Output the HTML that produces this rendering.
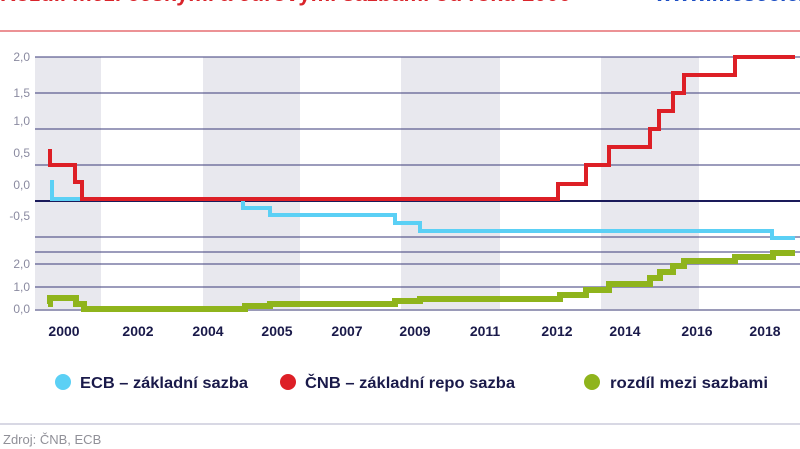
<!DOCTYPE html>
<html><head><meta charset="utf-8"><style>
html,body{margin:0;padding:0;background:#fff;}
svg{display:block;font-family:"Liberation Sans",sans-serif;}
</style></head><body>
<svg width="800" height="449" viewBox="0 0 800 449" xmlns="http://www.w3.org/2000/svg">
<text x="0" y="1" font-size="22" font-weight="bold" fill="#d9242b">Rozdíl mezi českými a eurovými sazbami od roku 2000</text>
<text x="655" y="1" font-size="22" font-weight="bold" fill="#1d4fc4">www.mesec.cz</text>
<line x1="0" y1="31" x2="800" y2="31" stroke="#d9242b" stroke-width="1"/>
<g fill="#e8e8ee">
<rect x="35" y="57" width="66" height="254"/>
<rect x="203" y="57" width="97" height="254"/>
<rect x="401" y="57" width="99" height="254"/>
<rect x="601" y="57" width="98" height="254"/>
</g>
<g stroke="#3a3a78" stroke-width="1">
<line x1="35" y1="57" x2="800" y2="57"/><line x1="35" y1="93" x2="800" y2="93"/>
<line x1="35" y1="129" x2="800" y2="129"/><line x1="35" y1="165" x2="800" y2="165"/>
<line x1="35" y1="237" x2="800" y2="237"/><line x1="35" y1="252" x2="800" y2="252"/>
<line x1="35" y1="264" x2="800" y2="264"/><line x1="35" y1="287" x2="800" y2="287"/>
<line x1="35" y1="310" x2="800" y2="310" stroke="#9a9ab8" stroke-width="2"/>
</g>
<line x1="35" y1="201" x2="800" y2="201" stroke="#1a1a5a" stroke-width="2"/>
<g font-size="12" fill="#8a8aa0" text-anchor="end">
<text x="30" y="61">2,0</text><text x="30" y="97">1,5</text><text x="30" y="125">1,0</text>
<text x="30" y="157">0,5</text><text x="30" y="189">0,0</text><text x="30" y="220">-0,5</text>
<text x="30" y="268">2,0</text><text x="30" y="291">1,0</text><text x="30" y="313">0,0</text>
</g>
<polyline fill="none" stroke="#5bd0f5" stroke-width="4" points="50,182 52,182 52,199 243,199 243,208 270,208 270,215 395,215 395,223 420,223 420,231 772,231 772,238 795,238"/>
<polyline fill="none" stroke="#dd1f26" stroke-width="4" points="50,149 50,165 75,165 75,182 82,182 82,199 558,199 558,184 586,184 586,165 609,165 609,147 650,147 650,129 659,129 659,111 673,111 673,93 684,93 684,75 735,75 735,57 795,57"/>
<polyline fill="none" stroke="#8fb41c" stroke-width="6" points="48,304 50,304 50,298 76,298 76,304 84,304 84,309 245,309 245,306 270,306 270,304 395,304 395,301 420,301 420,299 560,299 560,295 586,295 586,290 609,290 609,284 650,284 650,278 660,278 660,272 673,272 673,266 684,266 684,261 735,261 735,257 773,257 773,253 795,253"/>
<g font-size="14" font-weight="bold" fill="#1a1a4a" text-anchor="middle">
<text x="64" y="336">2000</text><text x="138" y="336">2002</text><text x="208" y="336">2004</text>
<text x="277" y="336">2005</text><text x="347" y="336">2007</text><text x="415" y="336">2009</text>
<text x="485" y="336">2011</text><text x="557" y="336">2012</text><text x="625" y="336">2014</text>
<text x="697" y="336">2016</text><text x="765" y="336">2018</text>
</g>
<g font-size="16" font-weight="bold" fill="#1a1a4a">
<circle cx="63" cy="382" r="8" fill="#5bd0f5"/><text x="80" y="388" textLength="168" lengthAdjust="spacingAndGlyphs">ECB – základní sazba</text>
<circle cx="288" cy="382" r="8" fill="#dd1f26"/><text x="305" y="388" textLength="210" lengthAdjust="spacingAndGlyphs">ČNB – základní repo sazba</text>
<circle cx="592" cy="382" r="8" fill="#8fb41c"/><text x="610" y="388" textLength="158" lengthAdjust="spacingAndGlyphs">rozdíl mezi sazbami</text>
</g>
<line x1="0" y1="424" x2="800" y2="424" stroke="#b0b0c8" stroke-width="1"/>
<text x="3" y="444" font-size="13" fill="#909098">Zdroj: ČNB, ECB</text>
</svg>
</body></html>
